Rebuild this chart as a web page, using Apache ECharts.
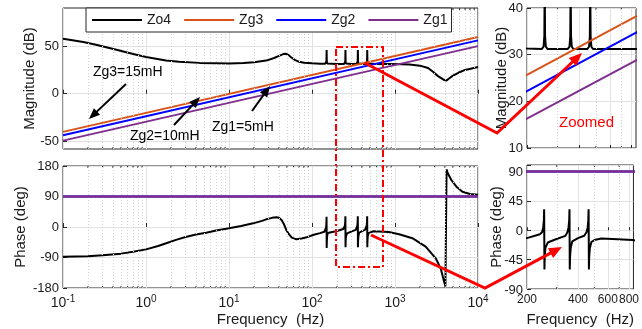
<!DOCTYPE html>
<html>
<head>
<meta charset="utf-8">
<script src="https://cdn.jsdelivr.net/npm/echarts@6/dist/echarts.min.js"></script>
<style>
  html, body { margin: 0; padding: 0; background: #fff; }
  #wrap { position: relative; width: 642px; height: 329px; }
  #c { width: 642px; height: 329px; }
  .ylab { position: absolute; z-index: 10; font: 13px "Liberation Sans", Arial, sans-serif; color: #1a1a1a;
          line-height: 15px; height: 15px; text-align: right; white-space: nowrap; }
</style>
</head>
<body>
<div id="wrap"><div id="c"></div></div>
<script>
// Zo4 output impedance, magnitude (Hz, dB)
const magFreq = [0.1, 0.176, 0.25, 0.44, 0.7, 1, 1.74, 2.5, 4.4, 10, 15, 20, 28, 35, 40, 45, 48, 52, 56, 62, 70, 80, 100, 125,
  144, 147.5, 149.2, 150, 150.8, 152.5, 156,
  200, 243, 249.2, 251.8, 253, 254.2, 256.8, 263,
  300, 343, 351.6, 355.2, 357, 358.8, 362.4, 371,
  420, 445, 456, 460.7, 463, 465.3, 470, 481,
  600, 850, 1200, 1500, 2000, 2500, 2840, 3300, 3800, 4160, 4400, 5000, 5800, 7000, 10000];
const magZo4 = [57.8, 54.3, 51.5, 46.2, 41.8, 38.5, 34.9, 33.5, 32.4, 31.8, 32.2, 33, 34.8, 37.5, 39.8, 41.6, 42, 40.8, 38.3, 35.5, 33.5, 32.5, 31.9, 31.5,
  31.4, 31.8, 34, 46, 34, 31.8, 31.4,
  31.3, 31.2, 31.7, 34, 46, 34, 31.7, 31.2,
  31.2, 31.2, 31.7, 34, 46, 34, 31.7, 31.2,
  31.2, 31.2, 31.7, 34, 46, 34, 31.7, 31.2,
  31.2, 31.2, 31, 30.8, 29.5, 27, 23.3, 18.5, 15, 13.8, 15.5, 19, 22, 25, 28];

// Zo4 output impedance, phase (Hz, deg)
const phaseFreq = [0.1, 0.2, 0.3, 0.5, 0.7, 1, 1.4, 1.75, 2.3, 3, 4, 5.3, 7, 10, 14, 19.5, 25, 28, 33, 37.4, 40, 43, 46, 49, 53, 57, 65, 75, 86, 105, 125, 141,
  145.5, 147.8, 149.1, 149.7, 150.3, 150.9, 152.2, 154.5, 159,
  200, 238, 245.4, 249.2, 251.5, 252.5, 253.5, 254.5, 256.8, 265, 296,
  337, 346.3, 351.6, 354.9, 356.3, 357.7, 359.1, 362.4, 370, 400,
  435, 449, 456, 460.2, 462, 464, 465.8, 470, 480, 500,
  549, 640, 840, 1120, 1620, 2340, 3100, 3550, 3900, 4050, 4150, 4180, 4300, 4770, 5500, 6500, 8000, 10000];
const phaseZo4 = [-87.6, -86, -83.5, -78.6, -73, -66, -56, -48, -38, -29.5, -22, -16.7, -10.5, -4, 3, 10.8, 18, 22.6, 27, 28.5, 27, 20.7, 8, -8.8, -22, -31.4, -36.4, -34, -30.5, -23, -18, -14,
  -10, -2, 10, 30, -62, -42, -27, -18, -14,
  -12, -6, -3, 4, 15, 32, -60, -40, -27, -18.8, -13.7,
  -8.6, -3, 4, 15, 32, -60, -40, -27, -17, -12,
  -8.5, -3, 4, 15, 32, -60, -40, -27, -18, -15,
  -12.7, -13.2, -15, -21.6, -33, -58, -92.5, -122, -161, -175, -180, 170, 160, 138.7, 119, 104, 97.4, 95.4];

// Grid impedances Zg = jwL: straight 20 dB/dec lines between the band edges
const zgFreq = [0.1, 10000];
const magZg3 = [-40, 59.5];   // 15 mH
const magZg2 = [-43.5, 56];   // 10 mH
const magZg1 = [-49.2, 50];   // 5 mH
const phaseZg = [90, 90];

// Axis ticks
const magTicks = [-50, 0, 50];
const zoomFreqTicks = [200, 400, 600, 800];
const zoomPhaseTicks = [-90, -45, 0, 45, 90];

const FONT = '"Liberation Sans", Arial, sans-serif';
const TXT = '#1a1a1a';
const C_ZO4 = '#000000', C_ZG3 = '#D95319', C_ZG2 = '#0000FF', C_ZG1 = '#7E2F8E';

const pairs = (xs, ys) => xs.map((x, i) => [x, ys[i]]);

// minor grid positions of a log axis: 2..9 in every decade
const minorMain = [];
for (let e = -1; e <= 3; e++) for (let m = 2; m <= 9; m++) minorMain.push(+(m * Math.pow(10, e)).toPrecision(3));
const minorZoom = [300, 500, 700];

const chart = echarts.init(document.getElementById('c'), null, { renderer: 'canvas' });

const gridBox = { show: true, borderColor: '#262626', borderWidth: 1, backgroundColor: '#ffffff', containLabel: false };
const majorSplit = { show: true, lineStyle: { color: '#e2e2e2', width: 1 } };
const tickStyle = { color: '#262626' };

function logX(gi, min, max, labels, extra) {
  return Object.assign({
    type: 'log', logBase: 10, gridIndex: gi, min: min, max: max,
    axisLine: { show: false },
    axisTick: { show: true, inside: true, length: 4, lineStyle: tickStyle },
    splitLine: majorSplit,
    nameMoveOverlap: false,
    axisLabel: labels ? {
      show: true, margin: 6, color: TXT, fontFamily: FONT, fontSize: 14,
      formatter: v => '{b|10}{e|' + Math.round(Math.log10(v)) + '}',
      rich: {
        b: { fontSize: 14, fontFamily: FONT, color: TXT },
        e: { fontSize: 10, fontFamily: FONT, color: TXT, padding: [0, 0, 9, 0] }
      }
    } : { show: false }
  }, extra || {});
}

function valY(gi, min, max, extra, name, gap) {
  return Object.assign({
    type: 'value', gridIndex: gi, min: min, max: max,
    axisLine: { show: false },
    axisTick: { show: true, inside: true, length: 4, lineStyle: tickStyle },
    splitLine: majorSplit,
    axisLabel: { show: true, margin: 4, color: TXT, fontFamily: FONT, fontSize: 13 },
    name: name, nameLocation: 'middle', nameGap: gap, nameMoveOverlap: false,
    nameTextStyle: { color: TXT, fontFamily: FONT, fontSize: 15 }
  }, extra || {});
}

function curve(name, xi, xs, ys, color, z) {
  return {
    name: name, type: 'line', xAxisIndex: xi, yAxisIndex: xi, data: pairs(xs, ys),
    symbol: 'none', showSymbol: false, clip: true, animation: false, z: z,
    lineStyle: { color: color, width: 2 }, itemStyle: { color: color }
  };
}

function minorGrid(xi, values) {
  return {
    type: 'line', xAxisIndex: xi, yAxisIndex: xi, data: [], silent: true, z: 1, animation: false,
    markLine: {
      silent: true, animation: false, symbol: ['none', 'none'], label: { show: false },
      lineStyle: { color: '#d2d2d2', type: [1, 2], width: 1 },
      data: values.map(v => ({ xAxis: v }))
    }
  };
}

// short inside ticks at the minor positions, on the lower and upper frame edges
function minorTicks(xi, values, yMin, yMax) {
  return {
    type: 'custom', xAxisIndex: xi, yAxisIndex: xi, silent: true, z: 2, animation: false, clip: false,
    data: values.map(v => [v]),
    renderItem: (params, api) => {
      const lo = api.coord([api.value(0), yMin]), hi = api.coord([api.value(0), yMax]);
      return { type: 'group', children: [
        { type: 'line', shape: { x1: lo[0], y1: lo[1], x2: lo[0], y2: lo[1] - 2 }, style: { stroke: '#262626', lineWidth: 1 } },
        { type: 'line', shape: { x1: hi[0], y1: hi[1], x2: hi[0], y2: hi[1] + 2 }, style: { stroke: '#262626', lineWidth: 1 } }
      ] };
    }
  };
}

const series = [];
const yRanges = [[-58, 90], [-180, 180], [10, 40], [-90, 100]];
for (let i = 0; i < 4; i++) {
  const isMag = (i === 0 || i === 2);
  const minors = i < 2 ? minorMain : minorZoom;
  series.push(minorGrid(i, minors));
  series.push(minorTicks(i, minors, yRanges[i][0], yRanges[i][1]));
  if (isMag) {
    series.push(curve('Zo4', i, magFreq, magZo4, C_ZO4, 3));
    series.push(curve('Zg3', i, zgFreq, magZg3, C_ZG3, 4));
    series.push(curve('Zg2', i, zgFreq, magZg2, C_ZG2, 5));
    series.push(curve('Zg1', i, zgFreq, magZg1, C_ZG1, 6));
  } else {
    series.push(curve('Zo4', i, phaseFreq, phaseZo4, C_ZO4, 3));
    series.push(curve('Zg3', i, zgFreq, phaseZg, C_ZG3, 4));
    series.push(curve('Zg2', i, zgFreq, phaseZg, C_ZG2, 5));
    series.push(curve('Zg1', i, zgFreq, phaseZg, C_ZG1, 6));
  }
}

// annotation helpers
function arrow(x1, y1, x2, y2, color, w, hl, hw) {
  const dx = x2 - x1, dy = y2 - y1, L = Math.hypot(dx, dy), ux = dx / L, uy = dy / L;
  const bx = x2 - ux * hl, by = y2 - uy * hl, px = -uy * hw / 2, py = ux * hw / 2;
  return [
    { type: 'line', z: 100, shape: { x1: x1, y1: y1, x2: bx + ux, y2: by + uy }, style: { stroke: color, lineWidth: w } },
    { type: 'polygon', z: 100, shape: { points: [[x2, y2], [bx + px, by + py], [bx - px, by - py]] }, style: { fill: color } }
  ];
}
function bentArrow(pts, color, w, hl, hw) {
  const n = pts.length, [x1, y1] = pts[n - 2], [x2, y2] = pts[n - 1];
  const dx = x2 - x1, dy = y2 - y1, L = Math.hypot(dx, dy), ux = dx / L, uy = dy / L;
  const bx = x2 - ux * hl, by = y2 - uy * hl, px = -uy * hw / 2, py = ux * hw / 2;
  const line = pts.slice(0, n - 1).concat([[bx + ux, by + uy]]);
  return [
    { type: 'polyline', z: 100, shape: { points: line }, style: { stroke: color, lineWidth: w, fill: null, lineJoin: 'miter' } },
    { type: 'polygon', z: 100, shape: { points: [[x2, y2], [bx + px, by + py], [bx - px, by - py]] }, style: { fill: color } }
  ];
}
function label(text, x, y, color, size) {
  return { type: 'text', z: 100, style: { text: text, x: x, y: y, fill: color, font: size + 'px ' + FONT, textVerticalAlign: 'middle' } };
}

const graphics = [].concat(
  label('Zg3=15mH', 93, 72, '#000', 14),
  arrow(126, 84, 89, 119, '#000', 2, 11, 9),
  label('Zg2=10mH', 130, 136, '#000', 14),
  arrow(174, 125, 200, 97, '#000', 2, 11, 9),
  label('Zg1=5mH', 212, 127, '#000', 14),
  arrow(252, 111, 270, 86, '#000', 2, 11, 9),
  { type: 'rect', z: 100, shape: { x: 336, y: 47, width: 47, height: 220 },
    style: { fill: null, stroke: '#ff0000', lineWidth: 2, lineDash: [7, 3, 2, 3] } },
  bentArrow([[365, 63], [497, 133], [582, 53]], '#ff0000', 3, 13, 11),
  bentArrow([[371, 235], [485, 288], [562, 247]], '#ff0000', 3, 13, 11),
  label('Zoomed', 559, 123, '#ff0000', 15)
);

const zoomTick = { show: true, inside: true, length: 3, customValues: zoomFreqTicks, lineStyle: tickStyle };

chart.setOption({
  animation: false,
  backgroundColor: '#ffffff',
  textStyle: { fontFamily: FONT },
  grid: [
    Object.assign({ left: 63, top: 8, width: 415, height: 141 }, gridBox),
    Object.assign({ left: 63, top: 166, width: 415, height: 122 }, gridBox),
    Object.assign({ left: 527, top: 8, width: 109, height: 140 }, gridBox),
    Object.assign({ left: 527, top: 165, width: 109, height: 124 }, gridBox)
  ],
  legend: {
    data: ['Zo4', 'Zg3', 'Zg2', 'Zg1'], left: 86, top: 8, z: 50,
    icon: 'rect', itemWidth: 50, itemHeight: 2, itemGap: 13,
    padding: [5, 4, 5, 6], backgroundColor: '#ffffff', borderColor: '#262626', borderWidth: 1, borderRadius: 0,
    selectedMode: false,
    textStyle: { fontSize: 14, fontFamily: FONT, color: TXT }
  },
  xAxis: [
    logX(0, 0.1, 10000, false),
    logX(1, 0.1, 10000, true, {
      name: 'Frequency  (Hz)', nameLocation: 'middle', nameGap: 24,
      nameTextStyle: { color: TXT, fontFamily: FONT, fontSize: 15, verticalAlign: 'top' }
    }),
    logX(2, 200, 850, false, { axisTick: zoomTick }),
    logX(3, 200, 850, false, {
      axisTick: zoomTick,
      axisLabel: { show: true, margin: 5, color: TXT, fontFamily: FONT, fontSize: 12, customValues: zoomFreqTicks, hideOverlap: false },
      name: 'Frequency  (Hz)', nameLocation: 'middle', nameGap: 23,
      nameTextStyle: { color: TXT, fontFamily: FONT, fontSize: 15, verticalAlign: 'top' }
    })
  ],
  yAxis: [
    valY(0, -58, 90, {
      axisTick: { show: true, inside: true, length: 4, customValues: magTicks, lineStyle: tickStyle },
      axisLabel: { show: true, margin: 4, color: TXT, fontFamily: FONT, fontSize: 13, customValues: magTicks }
    }, 'Magnitude (dB)', 26),
    valY(1, -180, 180, { interval: 90 }, 'Phase (deg)', 35),
    valY(2, 10, 40, { interval: 10 }, 'Magnitude (dB)', 18),
    valY(3, -90, 100, {
      interval: 45,
      axisLabel: { show: false }
    }, 'Phase (deg)', 23)
  ],
  series: series,
  graphic: graphics
});

// tick labels of the zoomed phase axis, positioned through the axis scale
const wrap = document.getElementById('wrap');
zoomPhaseTicks.forEach(v => {
  const y = chart.convertToPixel({ yAxisIndex: 3 }, v);
  const d = document.createElement('div');
  d.className = 'ylab';
  d.textContent = String(v);
  d.style.right = (642 - 523) + 'px';
  d.style.top = (y - 7.5) + 'px';
  wrap.appendChild(d);
});
</script>
</body>
</html>
